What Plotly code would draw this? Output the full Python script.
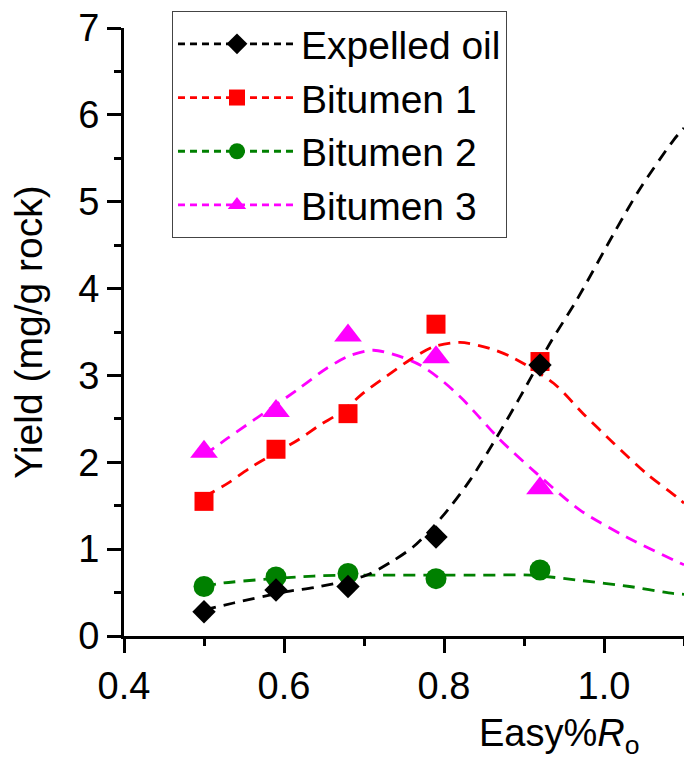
import plotly.graph_objects as go

FONT = "Arial, Liberation Sans, sans-serif"

# Measured points
easy_ro = [0.50, 0.59, 0.68, 0.79, 0.92]
expelled_oil = [0.28, 0.53, 0.57, 1.14, 3.12]
bitumen1 = [1.55, 2.15, 2.56, 3.59, 3.16]
bitumen2 = [0.57, 0.68, 0.72, 0.66, 0.76]
bitumen3 = [2.12, 2.59, 3.46, 3.21, 1.70]

# Fitted (dashed) curves
oil_fit_x = [0.5, 0.537, 0.603, 0.645, 0.703, 0.737, 0.762, 0.787, 0.808, 0.833, 0.866, 0.895, 0.9325, 0.966, 1.012, 1.045, 1.087, 1.1]
oil_fit_y = [0.30, 0.38, 0.51, 0.57, 0.70, 0.87, 1.03, 1.26, 1.49, 1.80, 2.29, 2.75, 3.37, 3.87, 4.63, 5.15, 5.71, 5.85]
b1_fit_x = [0.5, 0.53, 0.56, 0.618, 0.645, 0.67, 0.701, 0.728, 0.7575, 0.787, 0.82, 0.8575, 0.887, 0.937, 0.974, 1.012, 1.053, 1.091, 1.1]
b1_fit_y = [1.60, 1.76, 1.95, 2.26, 2.43, 2.57, 2.81, 2.99, 3.18, 3.33, 3.38, 3.31, 3.20, 2.91, 2.56, 2.22, 1.87, 1.60, 1.53]
b2_fit_x = [0.5, 0.524, 0.637, 0.703, 0.845, 0.908, 0.97, 1.032, 1.086, 1.1]
b2_fit_y = [0.57, 0.61, 0.69, 0.70, 0.70, 0.70, 0.64, 0.57, 0.49, 0.48]
b3_fit_x = [0.5, 0.53, 0.616, 0.653, 0.683, 0.712, 0.741, 0.77, 0.799, 0.824, 0.845, 0.87, 0.916, 0.97, 1.028, 1.095, 1.1]
b3_fit_y = [2.08, 2.28, 2.83, 3.08, 3.23, 3.29, 3.23, 3.12, 2.93, 2.72, 2.51, 2.26, 1.87, 1.45, 1.14, 0.84, 0.82]

series = [
    # name, points, fit x, fit y, color, symbol, size, legendrank
    ("Bitumen 2", bitumen2, b2_fit_x, b2_fit_y, "#008000", "circle", 21, 3),
    ("Bitumen 3", bitumen3, b3_fit_x, b3_fit_y, "#ff00ff", "triangle-up", 24, 4),
    ("Bitumen 1", bitumen1, b1_fit_x, b1_fit_y, "#ff0000", "square", 19, 2),
    ("Expelled oil", expelled_oil, oil_fit_x, oil_fit_y, "#000000", "diamond", 18, 1),
]

DASH = "12px,8px"
LW = 2.8

fig = go.Figure()
for name, pts, fx, fy, col, sym, sz, rank in series:
    fig.add_trace(go.Scatter(x=fx, y=fy, mode="lines", line=dict(color=col, width=LW, dash=DASH, shape="spline", smoothing=0.8),
                             showlegend=False, hoverinfo="skip"))
for name, pts, fx, fy, col, sym, sz, rank in series:
    fig.add_trace(go.Scatter(x=easy_ro, y=pts, mode="markers", marker=dict(color=col, symbol=sym, size=sz, line=dict(width=0)),
                             showlegend=False, cliponaxis=False))
for name, pts, fx, fy, col, sym, sz, rank in series:
    fig.add_trace(go.Scatter(x=[None], y=[None], mode="lines+markers", name=name, legendrank=rank,
                             line=dict(color=col, width=LW, dash="7px,5px"),
                             marker=dict(color=col, symbol=sym, size=sz, line=dict(width=0))))

fig.update_layout(
    width=684, height=764,
    margin=dict(l=124, r=0, t=28, b=128),
    paper_bgcolor="white", plot_bgcolor="white",
    font=dict(family=FONT, size=38, color="black"),
    showlegend=True,
    legend=dict(x=0.0857, y=1.028, xanchor="left", yanchor="top",
                bgcolor="white", bordercolor="#444444", borderwidth=1,
                font=dict(family=FONT, size=39, color="black"),
                itemwidth=118, tracegroupgap=0),
    xaxis=dict(range=[0.4, 1.1], dtick=0.2, tick0=0.4, tickformat=".1f", automargin=False,
               showline=True, linecolor="black", linewidth=2.8, mirror=False,
               ticks="outside", ticklen=14, tickwidth=2.8, tickcolor="black",
               minor=dict(dtick=0.1, ticks="outside", ticklen=7, tickwidth=2.8, tickcolor="black"),
               showgrid=False, zeroline=False, tickfont=dict(size=38)),
    yaxis=dict(range=[0, 7], dtick=1, tick0=0, automargin=False,
               showline=True, linecolor="black", linewidth=2.8, mirror=False,
               ticks="outside", ticklen=14, tickwidth=2.8, tickcolor="black",
               minor=dict(dtick=0.5, ticks="outside", ticklen=7, tickwidth=2.8, tickcolor="black"),
               showgrid=False, zeroline=False, tickfont=dict(size=38),
               title=dict(text="Yield (mg/g rock)", font=dict(size=39), standoff=24)),
    annotations=[dict(text="Easy%<i>R</i><sub>o</sub>", xref="paper", yref="paper",
                      x=0.925, y=-0.207, xanchor="right", yanchor="bottom", showarrow=False,
                      font=dict(size=38, family=FONT))],
)

fig.write_html("out.html", config={"displayModeBar": False},
               post_script="document.body.style.margin='0';document.body.style.overflow='hidden';")
